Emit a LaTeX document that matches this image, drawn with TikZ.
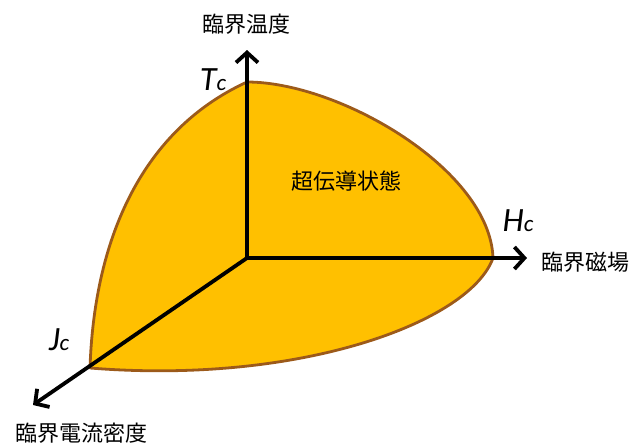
\documentclass[tikz,border=0pt]{standalone}
\usepackage{fontspec}
\setmainfont{Carlito}
\newfontfamily\jpfont{Noto Sans CJK JP}
\usetikzlibrary{arrows.meta}
\definecolor{ccGold}{HTML}{FFC000}
\definecolor{ccRim}{HTML}{9C5A1A}
\newcommand{\critval}[1]{{\itshape\fontsize{34}{34}\selectfont #1\fontsize{23}{23}\selectfont c}}

\begin{document}
\begin{tikzpicture}[x=1pt, y=-1pt]
\tikzstyle{axis}=[line width=3.8pt, -{Straight Barb[length=10pt, width=22pt, line width=3.8pt]}]
\tikzstyle{jplabel}=[inner sep=0pt, font=\jpfont\fontsize{22}{22}\selectfont]
\tikzstyle{critlabel}=[inner sep=0pt]
\useasboundingbox (0,0) rectangle (633,445);
% corner points of the superconducting region
\coordinate (o) at (247,258);
\coordinate (tc) at (247,82);
\coordinate (hc) at (493,258);
\coordinate (jc) at (90,368);
\filldraw[fill=ccGold, draw=ccRim, line width=2.8pt, line join=round]
  (tc) .. controls (340,82) and (490,170) .. (hc)
       .. controls (470,322) and (300,385) .. (jc)
       .. controls (94,245) and (138,132) .. (tc) -- cycle;
% axes
\coordinate (tend) at (247,50);
\coordinate (hend) at (527,258);
\coordinate (jend) at (33,405);
\draw[axis] (o) -- (tend);
\draw[axis] (o) -- (hend);
\draw[axis] (o) -- (jend);
\node[jplabel] (temp) at (246,24) {臨界温度};
\node[jplabel] (field) at (585,262) {臨界磁場};
\node[jplabel] (curr) at (82,433) {臨界電流密度};
\node[jplabel] (state) at (346,181) {超伝導状態};
\node[critlabel] (tlab) at (213,80) {\critval{T}};
\node[critlabel] (hlab) at (518,221) {\critval{H}};
\node[critlabel] (jlab) at (59,340) {\critval{J}};
\end{tikzpicture}
\end{document}
